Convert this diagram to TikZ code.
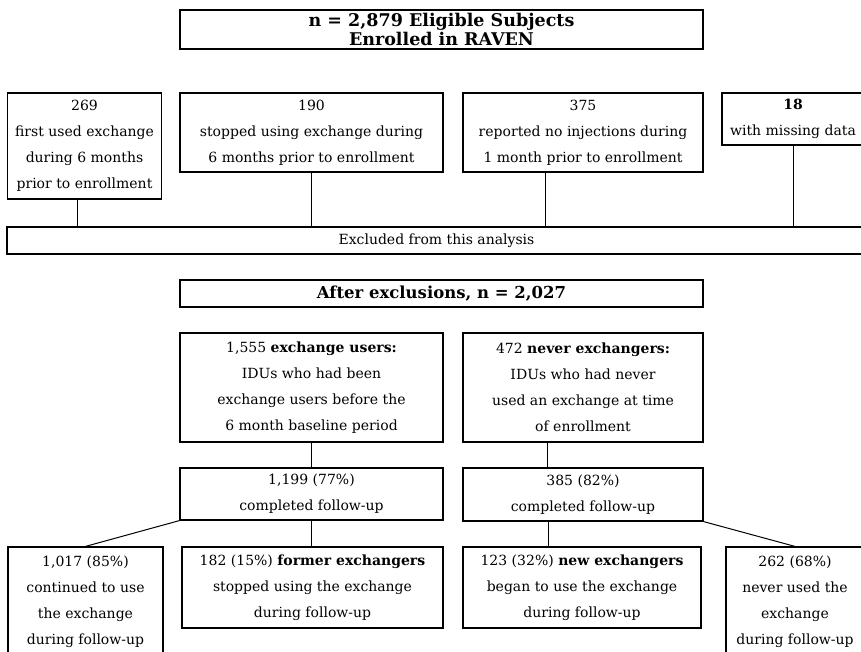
\documentclass[tikz,border=0pt]{standalone}
\usepackage{fontspec}
\setmainfont{DejaVu Serif}
\begin{document}
\begin{tikzpicture}[x=1pt, y=-1pt,
    box/.style={draw, line width=1.2pt, inner sep=0pt, align=center,
        font=\fontsize{14}{26}\selectfont},
    headbox/.style={box, font=\bfseries\fontsize{16.5}{20}\selectfont},
    link/.style={line width=1pt}]
    \useasboundingbox (0,0) rectangle (861,652);
    \clip (0,0) rectangle (861,652);

    % enrolment and exclusions
    \node[headbox, minimum width=523pt, minimum height=39pt,
        font=\bfseries\fontsize{17.5}{19.5}\selectfont] (enrol) at (441.5,29.5)
        {n = 2,879 Eligible Subjects\\Enrolled in RAVEN};
    \node[box, minimum width=154pt, minimum height=106pt] (ex1) at (84.5,146)
        {269\\first used exchange\\during 6 months\\prior to enrollment};
    \node[box, minimum width=263pt, minimum height=79pt] (ex2) at (311.5,132.5)
        {190\\stopped using exchange during\\6 months prior to enrollment};
    \node[box, minimum width=240pt, minimum height=79pt] (ex3) at (583,132.5)
        {375\\reported no injections during\\1 month prior to enrollment};
    \node[box, minimum width=142pt, minimum height=52pt] (ex4) at (793,119)
        {\textbf{18}\\with missing data};
    \node[box, minimum width=859pt, minimum height=27pt, font=\fontsize{14}{16}\selectfont]
        (excl) at (436.5,240.5) {Excluded from this analysis};

    \coordinate (j1) at ([xshift=-7pt]ex1.south);
    \coordinate (j3) at ([xshift=-38pt]ex3.south);
    \draw[link] (j1) -- (j1 |- excl.north);
    \draw[link] (ex2.south) -- (ex2.south |- excl.north);
    \draw[link] (j3) -- (j3 |- excl.north);
    \draw[link] (ex4.south) -- (ex4.south |- excl.north);

    % groups after exclusions
    \node[headbox, minimum width=523pt, minimum height=27pt] (after) at (441.5,293.5)
        {After exclusions, n = 2,027};
    \node[box, minimum width=263pt, minimum height=109pt] (users) at (311.5,387.5)
        {1,555 \textbf{exchange users:}\\IDUs who had been\\exchange users before the\\6 month baseline period};
    \node[box, minimum width=240pt, minimum height=109pt] (never) at (583,387.5)
        {472 \textbf{never exchangers:}\\IDUs who had never\\used an exchange at time\\of enrollment};
    \node[box, minimum width=263pt, minimum height=52pt] (fu1) at (311.5,494)
        {1,199 (77\%)\\completed follow-up};
    \node[box, minimum width=240pt, minimum height=53pt] (fu2) at (583,494.5)
        {385 (82\%)\\completed follow-up};

    \coordinate (j5) at ([xshift=-36pt]never.south);
    \draw[link] (users.south) -- (fu1.north);
    \draw[link] (j5) -- (j5 |- fu2.north);

    % outcomes during follow-up
    \node[box, minimum width=155pt, minimum height=109pt] (cont) at (85.5,601.5)
        {1,017 (85\%)\\continued to use\\the exchange\\during follow-up};
    \node[box, minimum width=261pt, minimum height=81pt] (former) at (312.5,587.5)
        {182 (15\%) \textbf{former exchangers}\\stopped using the exchange\\during follow-up};
    \node[box, minimum width=238pt, minimum height=81pt] (new) at (582,587.5)
        {123 (32\%) \textbf{new exchangers}\\began to use the exchange\\during follow-up};
    \node[box, minimum width=138pt, minimum height=109pt] (nonuse) at (795,601.5)
        {262 (68\%)\\never used the\\exchange\\during follow-up};

    \coordinate (j7) at ([xshift=-35pt]fu2.south);
    \draw[link] (fu1.south west) -- (cont.north);
    \draw[link] (fu1.south) -- (fu1.south |- former.north);
    \draw[link] (j7) -- (j7 |- new.north);
    \draw[link] (fu2.south east) -- (nonuse.north);
\end{tikzpicture}
\end{document}
